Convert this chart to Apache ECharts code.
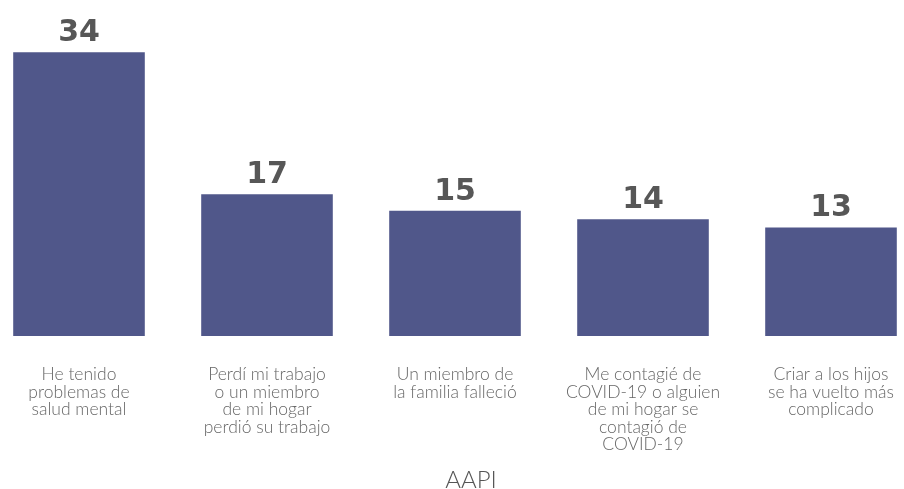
<!DOCTYPE html>
<html>
<head>
<meta charset="utf-8">
<script src="https://cdn.jsdelivr.net/npm/echarts@6/dist/echarts.min.js"></script>
<style>
  html, body { margin: 0; padding: 0; background: #fff; }
  #chart { width: 904px; height: 489px; }
</style>
</head>
<body>
<div id="chart"></div>
<script>
// categories and values
const categories = [
  "He tenido\nproblemas de\nsalud mental",
  "Perdí mi trabajo\no un miembro\nde mi hogar\nperdió su trabajo",
  "Un miembro de\nla familia falleció",
  "Me contagié de\nCOVID-19 o alguien\nde mi hogar se\ncontagió de\nCOVID-19",
  "Criar a los hijos\nse ha vuelto más\ncomplicado"
];
const values = [34, 17, 15, 14, 13];
const groupName = "AAPI";

const chart = echarts.init(document.getElementById("chart"));

const option = {
  animation: false,
  title: {
    text: groupName,
    left: 466,
    textAlign: "center",
    top: 463,
    textStyle: {
      fontFamily: "Lato",
      fontWeight: 300,
      fontSize: 24,
      color: "#555"
    }
  },
  grid: {
    left: -15,
    right: -21,
    top: 19,
    bottom: 153,
    containLabel: false,
    outerBoundsMode: "none"
  },
  xAxis: {
    type: "category",
    data: categories,
    axisLine: { show: false },
    axisTick: { show: false },
    axisLabel: {
      interval: 0,
      margin: 30,
      fontFamily: "Lato",
      fontWeight: 300,
      fontSize: 17.5,
      lineHeight: 17.5,
      color: "#666"
    }
  },
  yAxis: {
    type: "value",
    min: 0,
    max: 38,
    show: false,
    splitLine: { show: false }
  },
  series: [
    {
      type: "bar",
      data: values,
      barCategoryGap: "30%",
      itemStyle: { color: "#50578a" },
      label: {
        show: true,
        position: "top",
        distance: 4,
        fontFamily: "DejaVu Sans",
        fontWeight: "bold",
        fontSize: 30,
        color: "#575757"
      }
    }
  ]
};

chart.setOption(option);
</script>
</body>
</html>
